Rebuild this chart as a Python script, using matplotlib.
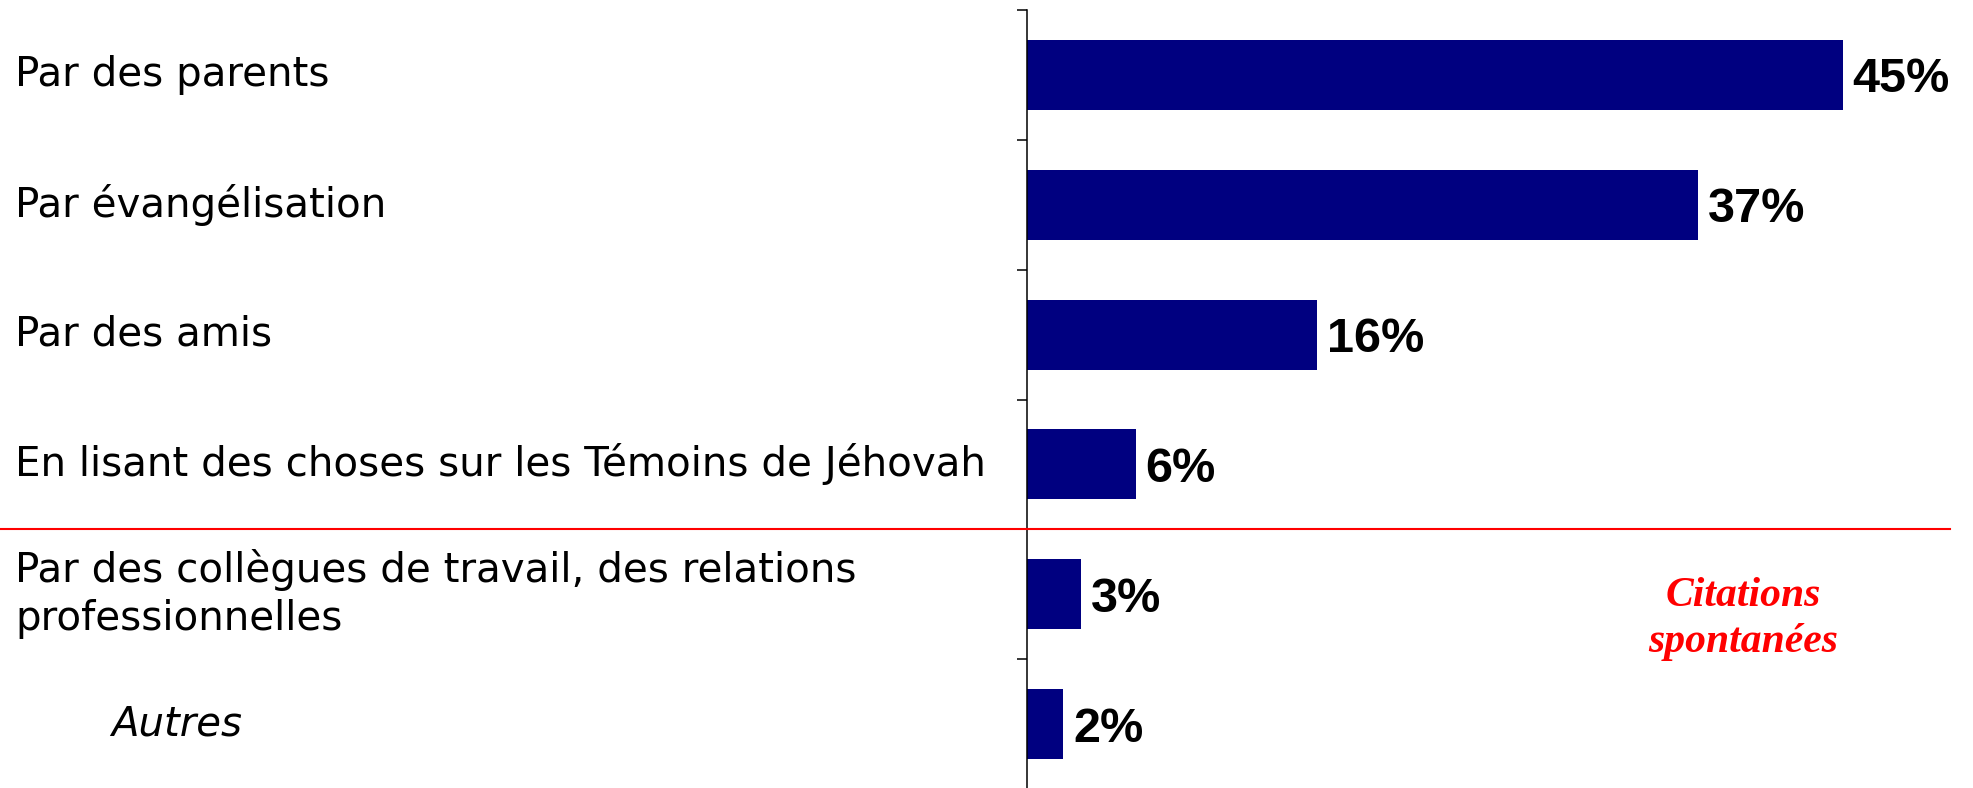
import matplotlib
matplotlib.use("Agg")
import matplotlib.pyplot as plt
from matplotlib.transforms import blended_transform_factory

categories = [
    "Par des parents",
    "Par évangélisation",
    "Par des amis",
    "En lisant des choses sur les Témoins de Jéhovah",
    "Par des collègues de travail, des relations\nprofessionnelles",
    "Autres",
]
values = [45, 37, 16, 6, 3, 2]
value_labels = ["45%", "37%", "16%", "6%", "3%", "2%"]

W, H = 1973, 788
fig = plt.figure(figsize=(W / 100, H / 100), dpi=100)
ax = fig.add_axes([1027 / W, -1 / H, (1950 - 1027) / W, (788 - 10 + 1) / H])

y = list(range(len(categories)))
ax.barh(y, values, height=0.54, color="#000080", zorder=2)
ax.set_ylim(len(categories) - 0.5, -0.5)
ax.set_xlim(0, 50.9)

for s in ["top", "right", "bottom"]:
    ax.spines[s].set_visible(False)
ax.spines["left"].set_linewidth(1.1)
ax.set_xticks([])
ax.set_yticks([i - 0.5 for i in range(len(categories))])
ax.set_yticklabels([])
ax.tick_params(axis="y", direction="out", length=7, width=1.1)

# value labels
for yi, v, lab in zip(y, values, value_labels):
    ax.annotate(lab, (v, yi), xytext=(7, 0), textcoords="offset points",
                ha="left", va="center_baseline", fontsize=35,
                fontweight="bold", family="Liberation Sans")

# category labels, left aligned in figure coordinates
tr = blended_transform_factory(fig.transFigure, ax.transData)
for yi, cat in zip(y, categories):
    if cat == "Autres":
        ax.text(111 / W, yi, cat, transform=tr, ha="left", va="center",
                fontsize=29, style="italic", family="DejaVu Sans")
    else:
        ax.text(15 / W, yi, cat, transform=tr, ha="left", va="center",
                fontsize=29.1, family="DejaVu Sans", linespacing=1.27)

# red separator between prompted and spontaneous answers
ax.plot([0, 1950 / W], [3.5, 3.5], transform=tr, color="red", lw=1.5,
        clip_on=False, zorder=3)

ax.text(1743 / W, 4.19, "Citations\nspontanées", transform=tr, ha="center",
        va="center", color="red", fontsize=30, fontweight="bold",
        style="italic", family="Liberation Serif", linespacing=1.3)

fig.savefig("out.png", dpi=100)
